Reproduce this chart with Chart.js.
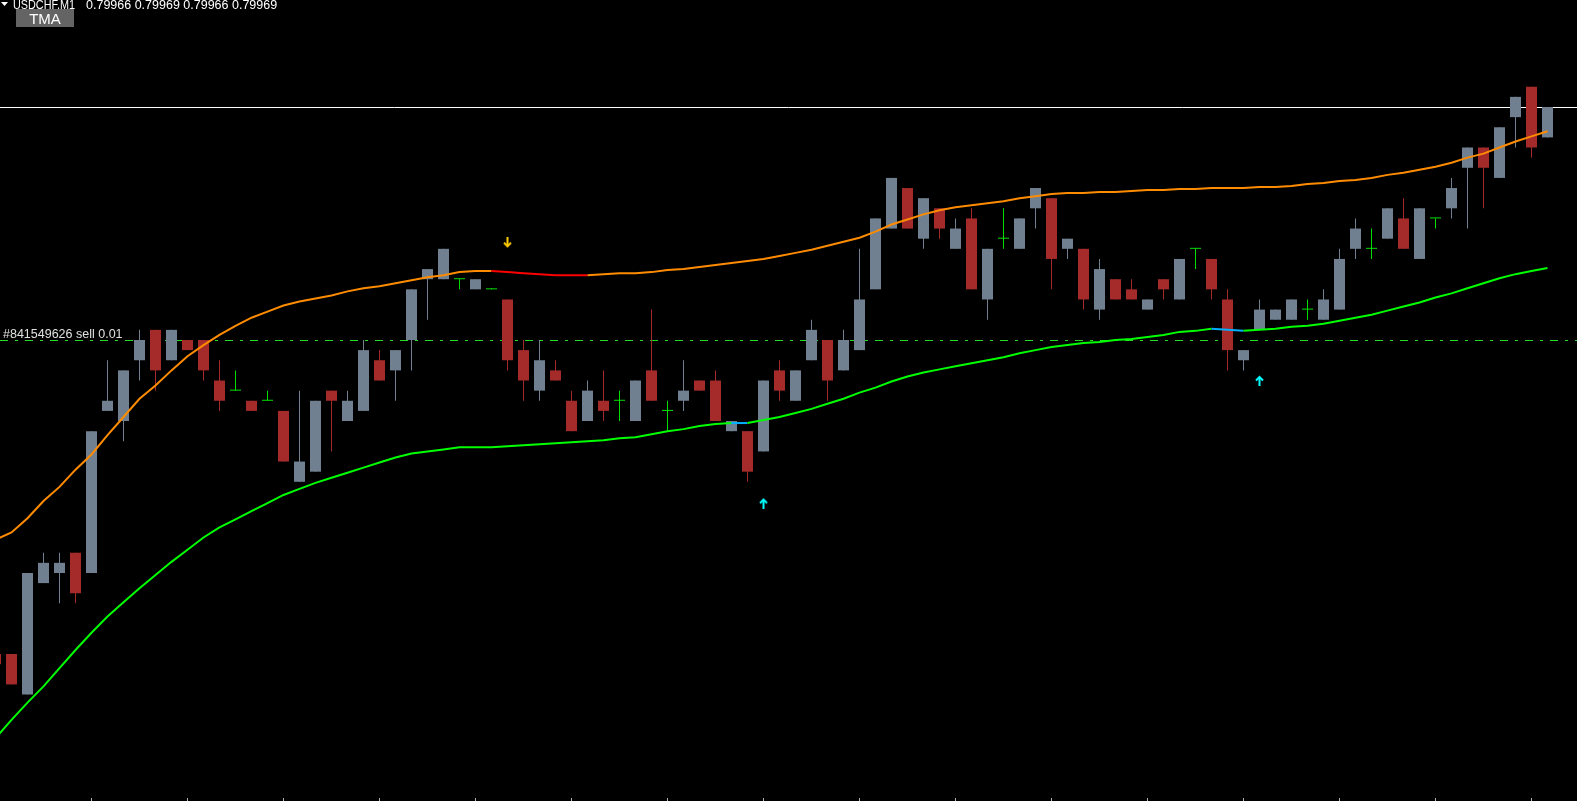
<!DOCTYPE html>
<html lang="en">
<head>
  <meta charset="UTF-8">
  <title>USDCHF,M1</title>
  <script src="https://cdn.jsdelivr.net/npm/chart.js"></script>
  <style>
    html, body { margin: 0; padding: 0; background: #000; overflow: hidden; }
    #wrap { width: 1577px; height: 801px; background: #000; }
  </style>
</head>
<body>

  <div id="wrap"><canvas id="chart"></canvas></div>

  <script>
    // USDCHF M1, one entry per bar (oldest first)
    const symbol = 'USDCHF,M1';
    const orderLabel = '#841549626 sell 0.01';
    const orderPrice = 0.79946;

    const opens = [
      0.79915, 0.79915, 0.79911, 0.79922, 0.79923, 0.79925, 0.79923, 0.79939, 0.79938, 0.79944,
      0.79947, 0.79944, 0.79946, 0.79946, 0.79942, 0.79941, 0.79940, 0.79940, 0.79939, 0.79932,
      0.79933, 0.79941, 0.79938, 0.79939, 0.79944, 0.79943, 0.79946, 0.79952, 0.79952, 0.79952,
      0.79951, 0.79951, 0.79950, 0.79945, 0.79941, 0.79943, 0.79940, 0.79938, 0.79940, 0.79940,
      0.79938, 0.79943, 0.79939, 0.79940, 0.79942, 0.79942, 0.79937, 0.79937, 0.79935, 0.79943,
      0.79940, 0.79944, 0.79946, 0.79943, 0.79945, 0.79951, 0.79957, 0.79961, 0.79956, 0.79959,
      0.79955, 0.79958, 0.79950, 0.79956, 0.79955, 0.79959, 0.79960, 0.79955, 0.79955, 0.79949,
      0.79952, 0.79951, 0.79949, 0.79952, 0.79950, 0.79955, 0.79954, 0.79950, 0.79944, 0.79947,
      0.79948, 0.79948, 0.79949, 0.79948, 0.79949, 0.79955, 0.79955, 0.79956, 0.79958, 0.79954,
      0.79958, 0.79959, 0.79963, 0.79965, 0.79962, 0.79968, 0.79971, 0.79966
    ];
    const highs = [
      0.79915, 0.79915, 0.79923, 0.79925, 0.79925, 0.79925, 0.79937, 0.79944, 0.79943, 0.79947,
      0.79947, 0.79947, 0.79946, 0.79946, 0.79944, 0.79943, 0.79940, 0.79941, 0.79939, 0.79941,
      0.79940, 0.79941, 0.79941, 0.79946, 0.79945, 0.79945, 0.79951, 0.79953, 0.79955, 0.79952,
      0.79952, 0.79951, 0.79950, 0.79946, 0.79946, 0.79944, 0.79941, 0.79942, 0.79943, 0.79941,
      0.79942, 0.79949, 0.79940, 0.79944, 0.79942, 0.79943, 0.79938, 0.79937, 0.79942, 0.79944,
      0.79943, 0.79948, 0.79946, 0.79947, 0.79955, 0.79958, 0.79962, 0.79961, 0.79960, 0.79959,
      0.79958, 0.79959, 0.79955, 0.79959, 0.79958, 0.79961, 0.79960, 0.79956, 0.79955, 0.79954,
      0.79952, 0.79952, 0.79950, 0.79952, 0.79954, 0.79955, 0.79954, 0.79951, 0.79945, 0.79950,
      0.79949, 0.79950, 0.79950, 0.79951, 0.79955, 0.79958, 0.79957, 0.79959, 0.79960, 0.79959,
      0.79958, 0.79962, 0.79965, 0.79965, 0.79967, 0.79970, 0.79971, 0.79969
    ];
    const lows = [
      0.79914, 0.79912, 0.79911, 0.79922, 0.79920, 0.79920, 0.79923, 0.79939, 0.79936, 0.79942,
      0.79941, 0.79944, 0.79945, 0.79942, 0.79939, 0.79941, 0.79939, 0.79940, 0.79934, 0.79932,
      0.79933, 0.79935, 0.79938, 0.79939, 0.79942, 0.79940, 0.79943, 0.79948, 0.79952, 0.79951,
      0.79951, 0.79951, 0.79943, 0.79940, 0.79940, 0.79942, 0.79937, 0.79938, 0.79938, 0.79938,
      0.79938, 0.79940, 0.79937, 0.79939, 0.79941, 0.79938, 0.79937, 0.79932, 0.79935, 0.79940,
      0.79940, 0.79944, 0.79940, 0.79943, 0.79945, 0.79951, 0.79957, 0.79957, 0.79955, 0.79956,
      0.79955, 0.79951, 0.79948, 0.79955, 0.79955, 0.79957, 0.79951, 0.79954, 0.79949, 0.79948,
      0.79950, 0.79950, 0.79949, 0.79950, 0.79950, 0.79953, 0.79950, 0.79943, 0.79943, 0.79947,
      0.79948, 0.79948, 0.79948, 0.79948, 0.79949, 0.79954, 0.79954, 0.79956, 0.79955, 0.79954,
      0.79957, 0.79958, 0.79957, 0.79959, 0.79962, 0.79965, 0.79964, 0.79966
    ];
    const closes = [
      0.79914, 0.79912, 0.79923, 0.79924, 0.79924, 0.79921, 0.79937, 0.79940, 0.79943, 0.79946,
      0.79943, 0.79947, 0.79945, 0.79943, 0.79940, 0.79941, 0.79939, 0.79940, 0.79934, 0.79934,
      0.79940, 0.79940, 0.79940, 0.79945, 0.79942, 0.79945, 0.79951, 0.79953, 0.79955, 0.79952,
      0.79952, 0.79951, 0.79944, 0.79942, 0.79944, 0.79942, 0.79937, 0.79941, 0.79939, 0.79940,
      0.79942, 0.79940, 0.79939, 0.79941, 0.79941, 0.79938, 0.79938, 0.79933, 0.79942, 0.79941,
      0.79943, 0.79947, 0.79942, 0.79946, 0.79950, 0.79958, 0.79962, 0.79957, 0.79960, 0.79957,
      0.79957, 0.79951, 0.79955, 0.79956, 0.79958, 0.79961, 0.79954, 0.79956, 0.79950, 0.79953,
      0.79950, 0.79950, 0.79950, 0.79951, 0.79954, 0.79955, 0.79951, 0.79945, 0.79945, 0.79949,
      0.79949, 0.79950, 0.79949, 0.79950, 0.79954, 0.79957, 0.79955, 0.79959, 0.79955, 0.79959,
      0.79958, 0.79961, 0.79965, 0.79963, 0.79967, 0.79970, 0.79965, 0.79969
    ];

    // TMA bands
    const tmaUpper = [
      0.799263, 0.799270, 0.799284, 0.799301, 0.799315, 0.799332, 0.799347, 0.799366, 0.799384, 0.799402,
      0.799415, 0.799430, 0.799444, 0.799455, 0.799465, 0.799474, 0.799482, 0.799488, 0.799494, 0.799498,
      0.799501, 0.799504, 0.799508, 0.799511, 0.799513, 0.799516, 0.799519, 0.799522, 0.799524, 0.799527,
      0.799528, 0.799528, 0.799527, 0.799526, 0.799525, 0.799524, 0.799524, 0.799524, 0.799525, 0.799526,
      0.799526, 0.799527, 0.799529, 0.799530, 0.799532, 0.799534, 0.799536, 0.799538, 0.799540, 0.799543,
      0.799546, 0.799549, 0.799553, 0.799557, 0.799561, 0.799567, 0.799574, 0.799579, 0.799584, 0.799588,
      0.799591, 0.799593, 0.799595, 0.799597, 0.799600, 0.799602, 0.799604, 0.799605, 0.799605, 0.799606,
      0.799606, 0.799607, 0.799608, 0.799608, 0.799609, 0.799609, 0.799610, 0.799610, 0.799610, 0.799611,
      0.799611, 0.799612, 0.799614, 0.799615, 0.799617, 0.799618, 0.799620, 0.799623, 0.799625, 0.799628,
      0.799631, 0.799635, 0.799640, 0.799644, 0.799650, 0.799656, 0.799661, 0.799666
    ];
    const tmaLower = [
      0.799067, 0.799085, 0.799102, 0.799118, 0.799136, 0.799154, 0.799171, 0.799187, 0.799201, 0.799215,
      0.799228, 0.799241, 0.799253, 0.799265, 0.799275, 0.799283, 0.799291, 0.799299, 0.799307, 0.799313,
      0.799319, 0.799324, 0.799329, 0.799334, 0.799339, 0.799344, 0.799348, 0.799350, 0.799352, 0.799354,
      0.799354, 0.799354, 0.799355, 0.799356, 0.799357, 0.799358, 0.799359, 0.799360, 0.799361, 0.799363,
      0.799364, 0.799367, 0.799370, 0.799372, 0.799375, 0.799377, 0.799378, 0.799378, 0.799381, 0.799384,
      0.799388, 0.799392, 0.799397, 0.799402, 0.799408, 0.799413, 0.799419, 0.799424, 0.799428, 0.799431,
      0.799434, 0.799437, 0.799440, 0.799443, 0.799447, 0.799450, 0.799453, 0.799455, 0.799457, 0.799458,
      0.799460, 0.799461, 0.799463, 0.799465, 0.799468, 0.799469, 0.799471, 0.799470, 0.799469, 0.799470,
      0.799471, 0.799473, 0.799474, 0.799476, 0.799479, 0.799482, 0.799485, 0.799489, 0.799493, 0.799497,
      0.799502, 0.799506, 0.799511, 0.799516, 0.799521, 0.799525, 0.799528, 0.799531
    ];
    // bar ranges where the bands switch colour
    const upperAltSpans = [[31, 37]];
    const lowerAltSpans = [[46, 47], [76, 78]];

    // signal arrows
    const sellArrowBars = [32];
    const sellArrowPrices = [0.799556];
    const buyArrowBars = [48, 79];
    const buyArrowPrices = [0.799299, 0.799420];

    const tickEvery = 6;

    const BULL = '#708090', BEAR = '#a52a2a', DOJI = '#00e000';
    const FONT = '"Liberation Sans", Arial, sans-serif';

    function candleColor(i) {
      if (closes[i] > opens[i]) return BULL;
      if (closes[i] < opens[i]) return BEAR;
      return DOJI;
    }
    function inSpans(spans, i) {
      return spans.some(s => i >= s[0] && i < s[1]);
    }
    function makeArrow(color, down) {
      const c = document.createElement('canvas');
      c.width = 9; c.height = 11;
      const g = c.getContext('2d');
      if (down) { g.translate(0, 11); g.scale(1, -1); }
      g.strokeStyle = color; g.fillStyle = color; g.lineWidth = 2;
      g.beginPath(); g.moveTo(1, 5.5); g.lineTo(4.5, 2); g.lineTo(8, 5.5); g.stroke();
      g.fillRect(3.5, 2, 2, 9);
      return c;
    }

    const idx = opens.map((_, i) => i);
    const wickData = idx.map(i => ({ x: i, y: [lows[i], highs[i]] }));
    const bodyData = idx.map(i => ({ x: i, y: [opens[i], closes[i]] }));

    const barPx = 16;
    const xMin = 4.5 / barPx;
    const xMax = xMin + 1577 / barPx;
    const pxPerPoint = 10.13;
    const lastClose = closes[closes.length - 1];
    const yMax = lastClose + (107 / pxPerPoint) * 0.00001;
    const yMin = yMax - (801 / pxPerPoint) * 0.00001;

    const overlay = {
      id: 'overlay',
      beforeDatasetsDraw(chart) {
        const { ctx, chartArea, scales } = chart;
        ctx.save();
        // bid line
        const by = Math.round(scales.y.getPixelForValue(lastClose)) + 0.5;
        ctx.strokeStyle = '#ffffff'; ctx.lineWidth = 1;
        ctx.beginPath(); ctx.moveTo(chartArea.left, by); ctx.lineTo(chartArea.right, by); ctx.stroke();
        // order line
        const oy = Math.round(scales.y.getPixelForValue(orderPrice)) + 0.5;
        ctx.strokeStyle = '#22dd22'; ctx.setLineDash([8, 7, 3, 7]);
        ctx.beginPath(); ctx.moveTo(chartArea.left, oy); ctx.lineTo(chartArea.right, oy); ctx.stroke();
        ctx.restore();
      },
      afterDraw(chart) {
        const { ctx, chartArea, scales } = chart;
        ctx.save();
        // order label
        const oy = Math.round(scales.y.getPixelForValue(orderPrice));
        ctx.font = '12.5px ' + FONT;
        ctx.fillStyle = '#e0e0e0';
        ctx.textBaseline = 'alphabetic';
        ctx.fillText(orderLabel, 3, oy - 2);

        // header
        ctx.fillStyle = '#ffffff';
        ctx.beginPath(); ctx.moveTo(1, 2); ctx.lineTo(8, 2); ctx.lineTo(4.5, 6); ctx.closePath(); ctx.fill();
        const last = opens.length - 1;
        ctx.fillText(symbol, 13, 9, 62);
        const ohlc = [opens[last], highs[last], lows[last], closes[last]].map(v => v.toFixed(5)).join(' ');
        ctx.fillText(ohlc, 86, 9);

        // TMA button
        ctx.fillStyle = '#646464';
        ctx.fillRect(16, 9, 58, 18);
        ctx.fillStyle = '#ffffff';
        ctx.font = '15px ' + FONT;
        ctx.textAlign = 'center';
        ctx.fillText('TMA', 45, 23.5);

        // time ticks along the bottom
        ctx.strokeStyle = '#b0b0b0';
        ctx.lineWidth = 1;
        for (let i = tickEvery; i < opens.length; i += tickEvery) {
          const x = Math.round(scales.x.getPixelForValue(i) - 0.5) + 0.5;
          ctx.beginPath(); ctx.moveTo(x, chartArea.bottom - 3); ctx.lineTo(x, chartArea.bottom); ctx.stroke();
        }
        ctx.restore();
      }
    };

    const ctx = document.getElementById('chart').getContext('2d');
    const chart = new Chart(ctx, {
      type: 'bar',
      data: {
        datasets: [
          {
            type: 'scatter',
            data: sellArrowBars.map((b, i) => ({ x: b, y: sellArrowPrices[i] })),
            pointStyle: makeArrow('#ffcc00', true),
            pointRadius: 5,
            order: 0
          },
          {
            type: 'scatter',
            data: buyArrowBars.map((b, i) => ({ x: b, y: buyArrowPrices[i] })),
            pointStyle: makeArrow('#00ffff', false),
            pointRadius: 5,
            order: 0
          },
          {
            type: 'line',
            data: idx.map(i => ({ x: i, y: tmaUpper[i] })),
            borderColor: '#ff8c00',
            borderWidth: 2,
            pointRadius: 0,
            tension: 0,
            segment: { borderColor: c => inSpans(upperAltSpans, c.p0DataIndex) ? '#ff0000' : undefined },
            order: 1
          },
          {
            type: 'line',
            data: idx.map(i => ({ x: i, y: tmaLower[i] })),
            borderColor: '#00ff00',
            borderWidth: 2,
            pointRadius: 0,
            tension: 0,
            segment: { borderColor: c => inSpans(lowerAltSpans, c.p0DataIndex) ? '#00b0ff' : undefined },
            order: 1
          },
          {
            data: bodyData,
            backgroundColor: c => candleColor(c.dataIndex),
            grouped: false,
            maxBarThickness: 11,
            barPercentage: 1,
            categoryPercentage: 1,
            minBarLength: 1,
            inflateAmount: 0,
            borderWidth: 0,
            order: 2
          },
          {
            data: wickData,
            backgroundColor: c => candleColor(c.dataIndex),
            grouped: false,
            maxBarThickness: 1,
            barPercentage: 1,
            categoryPercentage: 1,
            minBarLength: 1,
            inflateAmount: 0,
            borderWidth: 0,
            order: 3
          }
        ]
      },
      options: {
        responsive: true,
        maintainAspectRatio: false,
        animation: false,
        layout: { padding: 0, autoPadding: false },
        plugins: {
          legend: { display: false },
          tooltip: { enabled: false }
        },
        scales: {
          x: { type: 'linear', display: false, min: xMin, max: xMax, offset: false, grid: { offset: false } },
          y: { type: 'linear', display: false, min: yMin, max: yMax, beginAtZero: false }
        }
      },
      plugins: [overlay]
    });
  </script>

</body>
</html>
